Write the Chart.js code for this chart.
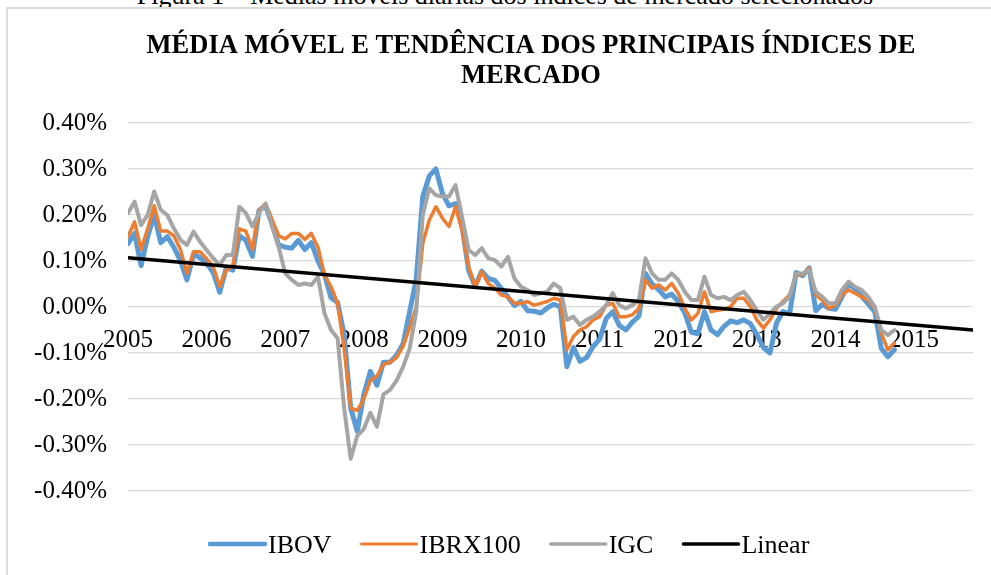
<!DOCTYPE html>
<html>
<head>
<meta charset="utf-8">
<title>Média móvel e tendência dos principais índices de mercado</title>
<script src="https://cdn.jsdelivr.net/npm/chart.js@4.4.1/dist/chart.umd.min.js"></script>
<style>
  html, body { margin: 0; padding: 0; background: #fff; overflow: hidden; }
  #wrap { position: relative; width: 991px; height: 575px; }
  #caption { position: absolute; left: 0; width: 1010px; top: -17px; text-align: center;
             font: 26px "Liberation Serif", serif; line-height: 26px; color: #000; white-space: nowrap; }
  #frame { position: absolute; left: 6px; top: 7px; right: -10px; bottom: -10px;
           border-left: 2px solid #d9d9d9; border-top: 2px solid #d9d9d9; }
  #box { position: absolute; left: 0; top: 0; width: 991px; height: 575px; }
</style>
</head>
<body>
<div id="wrap">
  <div id="caption">Figura 1 – Médias móveis diárias dos índices de mercado selecionados</div>
  <div id="frame"></div>
  <div id="box"><canvas id="mainCanvas"></canvas></div>
</div>
<script>
// valores em %, um ponto por mês a partir de jan/2005
var startYear = 2005;
var monthsPerYear = 12;
var yearLabels = [2005, 2006, 2007, 2008, 2009, 2010, 2011, 2012, 2013, 2014, 2015];
var titleLines = ['MÉDIA MÓVEL E TENDÊNCIA DOS PRINCIPAIS ÍNDICES DE', 'MERCADO'];
var seriesNames = ['IBOV', 'IBRX100', 'IGC', 'Linear'];

var ibov = [
  0.138, 0.160, 0.090, 0.153, 0.200, 0.140, 0.153, 0.130, 0.100, 0.059, 0.115, 0.107,
  0.095, 0.075, 0.032, 0.085, 0.080, 0.155, 0.145, 0.110, 0.210, 0.220, 0.180, 0.135,
  0.130, 0.128, 0.145, 0.125, 0.140, 0.100, 0.070, 0.020, 0.010, -0.060, -0.220, -0.270,
  -0.190, -0.140, -0.170, -0.120, -0.120, -0.105, -0.080, -0.010, 0.060, 0.240, 0.285, 0.300,
  0.247, 0.220, 0.225, 0.175, 0.080, 0.045, 0.078, 0.062, 0.058, 0.040, 0.022, 0.003,
  0.012, -0.008, -0.009, -0.013, -0.002, 0.006, 0.000, -0.130, -0.088, -0.118, -0.110, -0.086,
  -0.070, -0.025, -0.010, -0.040, -0.050, -0.033, -0.020, 0.073, 0.050, 0.038, 0.022, 0.028,
  0.012, -0.013, -0.055, -0.058, -0.010, -0.050, -0.060, -0.042, -0.030, -0.034, -0.028, -0.036,
  -0.060, -0.088, -0.100, -0.035, -0.010, -0.015, 0.075, 0.068, 0.085, -0.008, 0.006, -0.003,
  -0.005, 0.022, 0.050, 0.040, 0.023, 0.007, -0.010, -0.090, -0.108, -0.093
];
var ibrx100 = [
  0.153, 0.185, 0.125, 0.170, 0.220, 0.165, 0.165, 0.155, 0.125, 0.073, 0.120, 0.120,
  0.105, 0.088, 0.045, 0.080, 0.088, 0.170, 0.165, 0.125, 0.210, 0.225, 0.190, 0.155,
  0.148, 0.160, 0.160, 0.147, 0.160, 0.130, 0.070, 0.044, 0.008, -0.090, -0.220, -0.225,
  -0.200, -0.160, -0.150, -0.125, -0.120, -0.110, -0.085, -0.045, 0.000, 0.138, 0.189, 0.218,
  0.193, 0.175, 0.218, 0.167, 0.088, 0.044, 0.077, 0.051, 0.041, 0.026, 0.022, 0.008,
  0.008, 0.012, 0.004, 0.008, 0.012, 0.019, 0.015, -0.093, -0.064, -0.050, -0.043, -0.028,
  -0.021, 0.004, 0.008, -0.021, -0.021, -0.017, -0.003, 0.059, 0.041, 0.048, 0.037, 0.051,
  0.030, -0.003, -0.028, -0.014, 0.033, -0.010, -0.007, -0.005, 0.001, 0.019, 0.019, 0.001,
  -0.028, -0.046, -0.028, -0.003, 0.012, 0.026, 0.070, 0.070, 0.084, 0.026, 0.015, -0.003,
  0.004, 0.026, 0.037, 0.030, 0.022, 0.015, -0.003, -0.057, -0.093, -0.079
];
var igc = [
  0.204, 0.229, 0.178, 0.200, 0.251, 0.211, 0.200, 0.171, 0.146, 0.135, 0.164, 0.142,
  0.124, 0.106, 0.091, 0.113, 0.113, 0.218, 0.204, 0.175, 0.204, 0.225, 0.175, 0.131,
  0.073, 0.059, 0.048, 0.051, 0.048, 0.066, -0.014, -0.050, -0.068, -0.220, -0.330, -0.280,
  -0.265, -0.230, -0.260, -0.190, -0.180, -0.160, -0.130, -0.090, -0.010, 0.200, 0.258, 0.243,
  0.240, 0.240, 0.265, 0.196, 0.124, 0.113, 0.128, 0.106, 0.102, 0.088, 0.109, 0.062,
  0.044, 0.037, 0.026, 0.030, 0.033, 0.051, 0.041, -0.028, -0.021, -0.039, -0.028, -0.021,
  -0.010, 0.004, 0.030, 0.004, -0.003, 0.004, 0.015, 0.106, 0.073, 0.059, 0.059, 0.073,
  0.059, 0.033, 0.015, 0.015, 0.066, 0.026, 0.019, 0.022, 0.015, 0.026, 0.033, 0.015,
  -0.007, -0.028, -0.014, 0.001, 0.008, 0.022, 0.073, 0.073, 0.080, 0.033, 0.022, 0.008,
  0.008, 0.037, 0.055, 0.044, 0.037, 0.022, 0.001, -0.050, -0.061, -0.050
];
// tendência linear (anos desde 2005, %)
var trendX = [0, 10.75];
var trendY = [0.107, -0.050];

var serif = '"Liberation Serif", "Times New Roman", serif';

function toPoints(arr){
    return arr.map(function(v, i){ return { x: i / monthsPerYear, y: v }; });
}

// titulo e legenda no estilo do Excel
var excelText = {
    id: 'excelText',
    afterDraw: function(chart){
        var ctx = chart.ctx;
        ctx.save();
        ctx.fillStyle = '#000';
        ctx.textBaseline = 'alphabetic';
        ctx.textAlign = 'center';
        ctx.font = 'bold 26.5px ' + serif;
        titleLines.forEach(function(t, i){ ctx.fillText(t, 531, 53 + i * 30); });

        ctx.textAlign = 'left';
        ctx.font = '26px ' + serif;
        var x = 210;
        chart.data.datasets.forEach(function(ds){
            ctx.strokeStyle = ds.borderColor;
            ctx.lineWidth = ds.legendWidth;
            ctx.lineCap = 'round';
            ctx.beginPath();
            ctx.moveTo(x, 544);
            ctx.lineTo(x + 55, 544);
            ctx.stroke();
            ctx.fillText(ds.label, x + 58, 553);
            x += 58 + ctx.measureText(ds.label).width + 30;
        });
        ctx.restore();
    }
};

var ctx = document.getElementById('mainCanvas').getContext('2d');
var sChart = new Chart(ctx, {
    type: 'line',
    data: {
        datasets: [{
            label: seriesNames[0],
            data: toPoints(ibov),
            borderColor: '#5B9BD5',
            borderWidth: 5,
            legendWidth: 4.5,
            order: 3
        }, {
            label: seriesNames[1],
            data: toPoints(ibrx100),
            borderColor: '#ED7D31',
            borderWidth: 3.5,
            legendWidth: 3,
            order: 2
        }, {
            label: seriesNames[2],
            data: toPoints(igc),
            borderColor: '#A5A5A5',
            borderWidth: 4,
            legendWidth: 3.5,
            order: 1
        }, {
            label: seriesNames[3],
            data: trendX.map(function(x, i){ return { x: x, y: trendY[i] }; }),
            borderColor: '#000000',
            borderWidth: 3.5,
            legendWidth: 3.5,
            order: 0
        }]
    },
    options: {
        responsive: true,
        maintainAspectRatio: false,
        animation: false,
        layout: { padding: { top: 123, bottom: 84, left: 0, right: 18 } },
        elements: {
            point: { radius: 0, hoverRadius: 0 },
            line: { tension: 0, fill: false, borderJoinStyle: 'round', borderCapStyle: 'round' }
        },
        plugins: {
            legend: { display: false },
            title: { display: false },
            tooltip: { enabled: false }
        },
        scales: {
            x: {
                type: 'linear',
                min: 0,
                max: 10.75,
                position: { y: 0 },
                grid: { display: false, drawTicks: false },
                border: { display: false },
                ticks: {
                    stepSize: 1,
                    includeBounds: false,
                    autoSkip: false,
                    maxRotation: 0,
                    padding: 18,
                    color: '#000',
                    font: { family: serif, size: 25 },
                    callback: function(v){
                        return Number.isInteger(v) && yearLabels[v] !== undefined ? String(yearLabels[v]) : '';
                    }
                },
                afterFit: function(s){ s.height = 0; }
            },
            y: {
                min: -0.4,
                max: 0.4,
                grid: { color: '#d9d9d9', lineWidth: 1.3, drawTicks: false },
                border: { display: false },
                ticks: {
                    stepSize: 0.1,
                    padding: 21,
                    color: '#000',
                    font: { family: serif, size: 25 },
                    callback: function(v){
                        if (Math.abs(v) < 1e-9) { v = 0; }
                        return v.toFixed(2) + '%';
                    }
                },
                afterFit: function(s){ s.width = 128; }
            }
        }
    },
    plugins: [excelText]
});
</script>
</body>
</html>
